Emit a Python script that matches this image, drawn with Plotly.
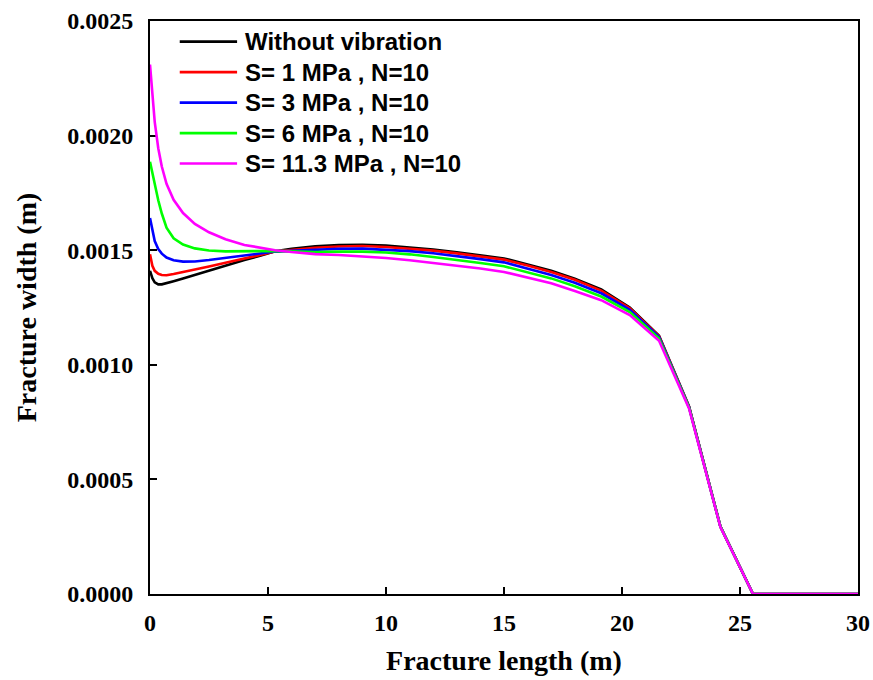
import plotly.graph_objects as go

# Position along the fracture (m)
fracture_length = [0, 0.1, 0.2, 0.35, 0.5, 0.7, 1.0, 1.4, 1.9, 2.5, 3.2, 4.0, 4.7, 5.3,
                   6.0, 7.0, 8.0, 9.0, 10.0, 11.0, 12.0, 13.0, 14.0, 15.0, 16.0, 17.0, 18.0,
                   19.12, 20.33, 21.57, 22.84, 24.17, 25.55, 30.0]

# Fracture width (m) for each loading case
width_no_vibration = [0.001410, 0.001378, 0.001360, 0.001351, 0.001351, 0.001356, 0.001365,
                      0.001377, 0.001393, 0.001412, 0.001434, 0.001457, 0.001477, 0.001495,
                      0.001506, 0.001517, 0.001523, 0.001524, 0.001520, 0.001513, 0.001503,
                      0.001491, 0.001477, 0.001464, 0.001438, 0.001410, 0.001376,
                      0.001329, 0.001250, 0.001127, 0.000818, 0.000294, 0.0, 0.0]
width_s1 = [0.001482, 0.001432, 0.001410, 0.001397, 0.001392, 0.001391, 0.001396,
            0.001404, 0.001415, 0.001429, 0.001445, 0.001462, 0.001480, 0.001494,
            0.001501, 0.001511, 0.001516, 0.001518, 0.001514, 0.001507, 0.001498,
            0.001486, 0.001472, 0.001459, 0.001433, 0.001405, 0.001371,
            0.001324, 0.001247, 0.001125, 0.000817, 0.000294, 0.0, 0.0]
width_s3 = [0.001640, 0.001585, 0.001540, 0.001505, 0.001485, 0.001468, 0.001456,
            0.001450, 0.001451, 0.001457, 0.001466, 0.001476, 0.001486, 0.001494,
            0.001497, 0.001502, 0.001506, 0.001507, 0.001503, 0.001496, 0.001487,
            0.001475, 0.001461, 0.001447, 0.001421, 0.001392, 0.001358,
            0.001312, 0.001240, 0.001121, 0.000816, 0.000294, 0.0, 0.0]
width_s6 = [0.001886, 0.001835, 0.001785, 0.001718, 0.001660, 0.001598, 0.001552,
            0.001525, 0.001508, 0.001499, 0.001495, 0.001494, 0.001496, 0.001497,
            0.001495, 0.001492, 0.001494, 0.001494, 0.001490, 0.001482, 0.001470,
            0.001458, 0.001444, 0.001430, 0.001405, 0.001377, 0.001343,
            0.001298, 0.001230, 0.001115, 0.000814, 0.000294, 0.0, 0.0]
width_s113 = [0.002310, 0.002170, 0.002060, 0.001945, 0.001865, 0.001790, 0.001720,
              0.001662, 0.001615, 0.001578, 0.001548, 0.001523, 0.001509, 0.001500,
              0.001492, 0.001483, 0.001479, 0.001474, 0.001466, 0.001456, 0.001445,
              0.001433, 0.001420, 0.001405, 0.001382, 0.001356, 0.001322,
              0.001282, 0.001217, 0.001105, 0.000810, 0.000292, 0.0, 0.0]

series_names = ["Without vibration", "S= 1 MPa , N=10", "S= 3 MPa , N=10",
                "S= 6 MPa , N=10", "S= 11.3 MPa , N=10"]
series_values = [width_no_vibration, width_s1, width_s3, width_s6, width_s113]
series_colors = ["#000000", "#ff0000", "#0000ff", "#00ff00", "#ff00ff"]

fig = go.Figure()
for name, vals, col in zip(series_names, series_values, series_colors):
    fig.add_trace(go.Scatter(x=fracture_length, y=vals, mode="lines", name=name,
                             line=dict(color=col, width=2.6), showlegend=False))

# Compact key in the upper-left corner of the plot area (paper coordinates)
key_top, key_step = 0.964, 0.0532
key_line_x0, key_line_x1, key_text_x = 0.042, 0.123, 0.132
for i, (name, col) in enumerate(zip(series_names, series_colors)):
    yk = key_top - i * key_step
    fig.add_shape(type="line", xref="paper", yref="paper",
                  x0=key_line_x0, x1=key_line_x1, y0=yk, y1=yk,
                  line=dict(color=col, width=2.6))
    fig.add_annotation(xref="paper", yref="paper", x=key_text_x, y=yk,
                       xanchor="left", yanchor="middle", showarrow=False,
                       text=name,
                       font=dict(family="Liberation Sans", size=24, color="black",
                                 weight="bold"))

serif_bold = dict(family="Liberation Serif", size=24, color="black", weight="bold")
title_font = dict(family="Liberation Serif", size=28, color="black", weight="bold")
axis_common = dict(showline=True, linecolor="black", linewidth=2, mirror=True,
                   ticks="inside", ticklen=7, tickwidth=2, tickcolor="black",
                   showgrid=False, zeroline=False, layer="below traces",
                   tickfont=serif_bold, automargin=False)

fig.update_layout(
    width=873, height=680,
    margin=dict(l=150, r=15, t=21, b=86),
    plot_bgcolor="white", paper_bgcolor="white",
    xaxis=dict(range=[0, 30], dtick=5, tick0=0, ticklabelstandoff=6,
               title=dict(text="Fracture length (m)", font=title_font, standoff=16),
               **axis_common),
    yaxis=dict(range=[0, 0.0025], dtick=0.0005, tick0=0, tickformat=".4f",
               ticklabelstandoff=10,
               title=dict(text="Fracture width (m)", font=title_font, standoff=22),
               **axis_common),
    showlegend=False,
)

fig.write_html("out.html")
